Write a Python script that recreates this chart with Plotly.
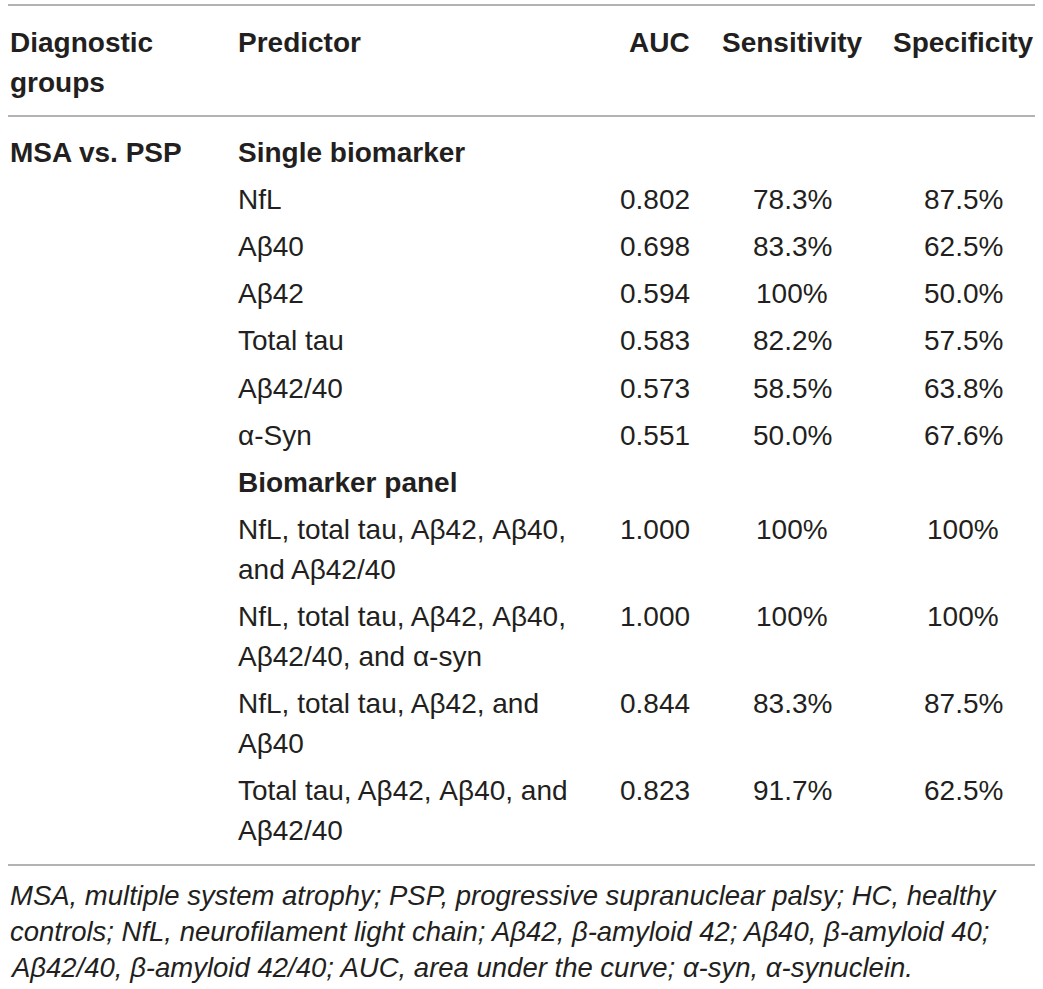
import plotly.graph_objects as go

# ---- data ----
headers = ["Diagnostic<br>groups", "Predictor", "AUC", "Sensitivity", "Specificity"]
group_label = "MSA vs. PSP"
section_single = "Single biomarker"
single_predictors = ["NfL", "Aβ40", "Aβ42", "Total tau", "Aβ42/40", "α-Syn"]
single_auc = ["0.802", "0.698", "0.594", "0.583", "0.573", "0.551"]
single_sens = ["78.3%", "83.3%", "100%", "82.2%", "58.5%", "50.0%"]
single_spec = ["87.5%", "62.5%", "50.0%", "57.5%", "63.8%", "67.6%"]
section_panel = "Biomarker panel"
panel_predictors = [
    "NfL, total tau, Aβ42, Aβ40,<br>and Aβ42/40",
    "NfL, total tau, Aβ42, Aβ40,<br>Aβ42/40, and α-syn",
    "NfL, total tau, Aβ42, and<br>Aβ40",
    "Total tau, Aβ42, Aβ40, and<br>Aβ42/40",
]
panel_auc = ["1.000", "1.000", "0.844", "0.823"]
panel_sens = ["100%", "100%", "83.3%", "91.7%"]
panel_spec = ["100%", "100%", "87.5%", "62.5%"]
footnote_lines = [
    "MSA, multiple system atrophy; PSP, progressive supranuclear palsy; HC, healthy",
    "controls; NfL, neurofilament light chain; Aβ42, β-amyloid 42; Aβ40, β-amyloid 40;",
    "Aβ42/40, β-amyloid 42/40; AUC, area under the curve; α-syn, α-synuclein.",
]

# ---- layout constants ----
W, H = 1043, 989
TXT = "#231f20"
LINE = "#9a9a9a"
FONT = "Liberation Sans, Arial, sans-serif"
FS = 28
X_COL1, X_COL2, X_AUC, X_SENS, X_SPEC = 8, 236, 692, 792, 963
ROW = 47.2
WRAP = 40
ROW2 = 87

ann = []


def add(text, x, y, anchor="left", bold=False, italic=False, size=FS):
    t = text
    if bold:
        t = "<b>" + t + "</b>"
    if italic:
        t = "<i>" + t + "</i>"
    ann.append(dict(x=x, y=y, xref="x", yref="y", text=t, showarrow=False,
                    xanchor=anchor, yanchor="middle",
                    font=dict(family=FONT, size=size, color=TXT)))


def add_lines(text, x, y, anchor="left", bold=False):
    for i, part in enumerate(text.split("<br>")):
        add(part, x, y + i * WRAP, anchor, bold)


# header
hy = 42
add_lines(headers[0], X_COL1, hy, bold=True)
add_lines(headers[1], X_COL2, hy, bold=True)
add(headers[2], X_AUC, hy, "right", bold=True)
add(headers[3], X_SENS, hy, "center", bold=True)
add(headers[4], X_SPEC, hy, "center", bold=True)

# body
y = 152
add(group_label, X_COL1, y, bold=True)
add(section_single, X_COL2, y, bold=True)
for p, a, s, sp in zip(single_predictors, single_auc, single_sens, single_spec):
    y += ROW
    add(p, X_COL2, y)
    add(a, X_AUC, y, "right")
    add(s, X_SENS, y, "center")
    add(sp, X_SPEC, y, "center")
y += ROW
add(section_panel, X_COL2, y, bold=True)
y += ROW
for p, a, s, sp in zip(panel_predictors, panel_auc, panel_sens, panel_spec):
    add_lines(p, X_COL2, y)
    add(a, X_AUC, y, "right")
    add(s, X_SENS, y, "center")
    add(sp, X_SPEC, y, "center")
    y += ROW2

# footnote
fy = 895
for i, line in enumerate(footnote_lines):
    add(line, X_COL1, fy + i * 36, italic=True, size=27.5)

shapes = []
for ly in (5, 116, 865):
    shapes.append(dict(type="line", xref="x", yref="y", x0=8, x1=1035, y0=ly, y1=ly,
                       line=dict(color=LINE, width=1.5)))

fig = go.Figure()
fig.update_layout(
    width=W, height=H,
    margin=dict(l=0, r=0, t=0, b=0),
    paper_bgcolor="white", plot_bgcolor="white",
    xaxis=dict(range=[0, W], visible=False, fixedrange=True),
    yaxis=dict(range=[H, 0], visible=False, fixedrange=True),
    annotations=ann, shapes=shapes, showlegend=False,
)
fig.write_html(
    "out.html",
    config={"displayModeBar": False},
    post_script="document.body.style.margin='0';document.body.style.overflow='hidden';",
)
